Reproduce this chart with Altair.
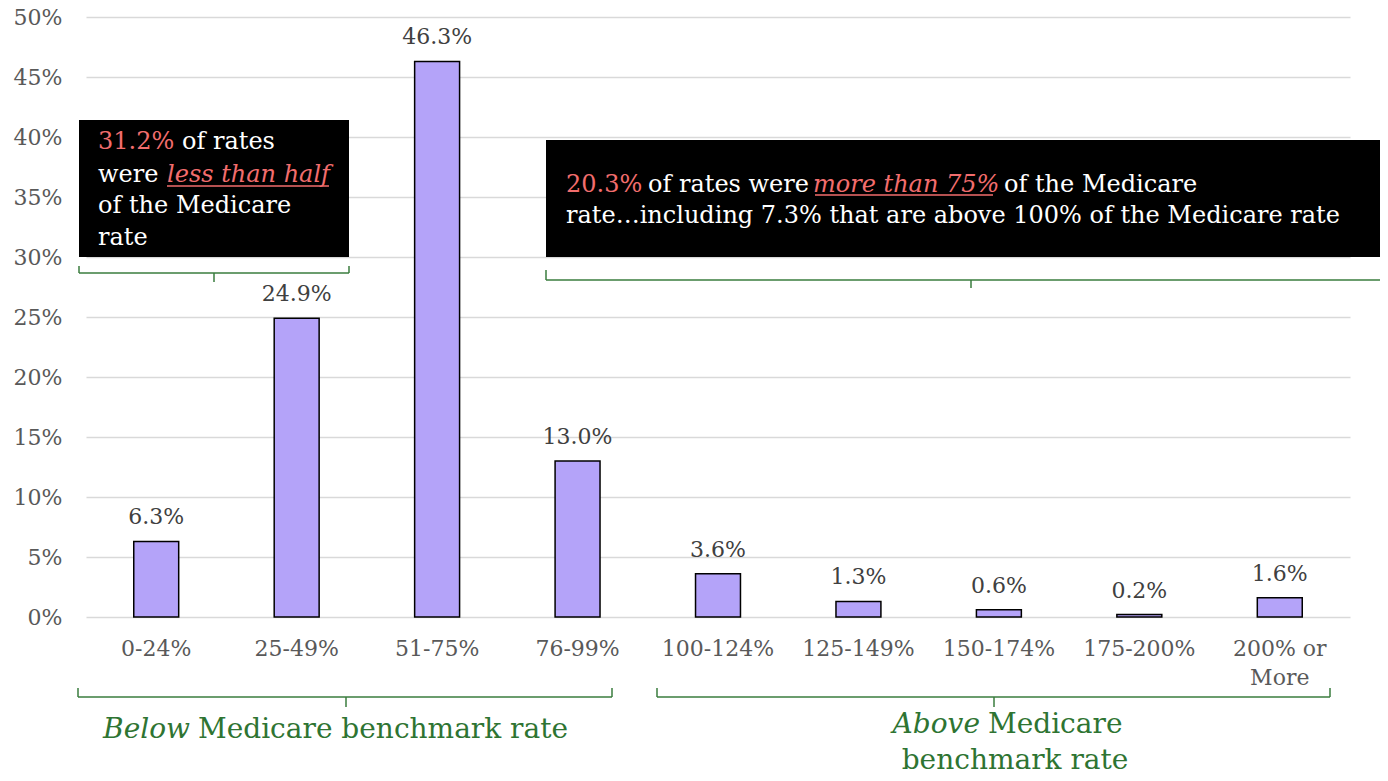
import altair as alt
import pandas as pd

# ---------------- data ----------------
categories = ["0-24%", "25-49%", "51-75%", "76-99%", "100-124%",
              "125-149%", "150-174%", "175-200%", "200% or More"]
shares = [6.3, 24.9, 46.3, 13.0, 3.6, 1.3, 0.6, 0.2, 1.6]
share_labels = ["6.3%", "24.9%", "46.3%", "13.0%", "3.6%", "1.3%", "0.6%", "0.2%", "1.6%"]
y_ticks = [0, 5, 10, 15, 20, 25, 30, 35, 40, 45, 50]

# annotation texts
box1_lines = ["31.2%", "of rates", "were", "less than half", "of the Medicare", "rate"]
box2_lines = ["20.3%", "of rates were", "more than 75%", "of the Medicare",
              "rate\u2026including 7.3% that are above 100% of the Medicare rate"]
group_texts = ["Below", "Medicare benchmark rate", "Above", "Medicare", "benchmark rate"]

FONT = "DejaVu Serif"
W, H = 1264, 600
RED = "#F26D6D"
GREEN = "#2E7432"
BRACKET = "#3A7D3E"

df = pd.DataFrame({"category": categories, "share": shares, "label": share_labels})

x_enc = alt.X("category:N", sort=categories,
              scale=alt.Scale(paddingInner=0.68, paddingOuter=0.34),
              axis=alt.Axis(title=None, labelAngle=0, domain=False, ticks=False, tickSize=0,
                            labelPadding=21, labelFont=FONT, labelFontSize=22,
                            labelColor="#595959", labelLineHeight=29,
                            labelExpr="datum.value == '200% or More' ? ['200% or', 'More'] : datum.label"))
y_enc = alt.Y("share:Q", scale=alt.Scale(domain=[0, 50], nice=False),
              axis=alt.Axis(title=None, values=y_ticks, domain=False, ticks=False, tickSize=0,
                            labelExpr="datum.value + '%'", labelPadding=24, labelFont=FONT,
                            labelFontSize=22, labelColor="#595959",
                            gridColor="#D9D9D9", gridWidth=1.5))

base = alt.Chart(df)
bars = base.mark_bar(color="#B4A3F9", stroke="black", strokeWidth=1.5).encode(x=x_enc, y=y_enc)
labels = base.mark_text(font=FONT, fontSize=22, color="#404040", baseline="alphabetic",
                        dy=-17).encode(x=x_enc, y=y_enc, text="label:N")

# ---------------- annotations (pixel space) ----------------
def px(field):
    return alt.X(field + ":Q", scale=None, axis=None)

def py(field):
    return alt.Y(field + ":Q", scale=None, axis=None)

boxes = pd.DataFrame({"x": [-7, 460], "x2": [263, 1302], "y": [103, 123], "y2": [240, 240]})
box_layer = alt.Chart(boxes).mark_rect(color="black").encode(
    x=px("x"), x2="x2:Q", y=py("y"), y2="y2:Q")

# brackets: horizontal line, two end ticks, one centre tick each
br = []
def bracket(x1, x2, y, up, xm, down):
    br.extend([(x1, x2, y, y), (x1, x1, y, y - up), (x2, x2, y, y - up), (xm, xm, y, y + down)])
bracket(-7, 263, 256, 7, 128, 9)
bracket(460, 1302, 263, 10, 885, 8)
bracket(-8, 526, 680, 9, 260, 10)
bracket(571, 1244, 680, 9, 908, 10)
brackets = pd.DataFrame(br, columns=["x", "x2", "y", "y2"])
bracket_layer = alt.Chart(brackets).mark_rule(color=BRACKET, strokeWidth=1.5).encode(
    x=px("x"), x2="x2:Q", y=py("y"), y2="y2:Q")

unders = pd.DataFrame({"x": [81, 729], "x2": [243, 907], "y": [169, 178], "y2": [169, 178]})
under_layer = alt.Chart(unders).mark_rule(color=RED, strokeWidth=1.5).encode(
    x=px("x"), x2="x2:Q", y=py("y"), y2="y2:Q")

box_norm = pd.DataFrame({
    "t": [box1_lines[0], box1_lines[1], box1_lines[2], box1_lines[4], box1_lines[5],
          box2_lines[0], box2_lines[1], box2_lines[3], box2_lines[4]],
    "x": [12, 96, 12, 12, 12, 480, 562, 918, 480],
    "y": [132, 132, 165, 196, 228, 175, 175, 175, 206],
    "c": [RED, "white", "white", "white", "white", RED, "white", "white", "white"],
})
box_ital = pd.DataFrame({"t": [box1_lines[3], box2_lines[2]], "x": [81, 727], "y": [165, 175]})

def text_layer(d, **kw):
    enc = dict(x=px("x"), y=py("y"), text="t:N")
    if "c" in d.columns:
        enc["color"] = alt.Color("c:N", scale=None)
    return alt.Chart(d).mark_text(font=FONT, baseline="alphabetic", **kw).encode(**enc)

t1 = text_layer(box_norm, fontSize=24, align="left")
t2 = text_layer(box_ital, fontSize=24, align="left", fontStyle="italic", color=RED)

g_right_it = pd.DataFrame({"t": [group_texts[0], group_texts[2]], "x": [104, 894], "y": [721, 716]})
g_left = pd.DataFrame({"t": [group_texts[1], group_texts[3]], "x": [112, 902], "y": [721, 716]})
g_center = pd.DataFrame({"t": [group_texts[4]], "x": [929], "y": [752]})
t3 = text_layer(g_right_it, fontSize=28, align="right", fontStyle="italic", color=GREEN)
t4 = text_layer(g_left, fontSize=28, align="left", color=GREEN)
t5 = text_layer(g_center, fontSize=28, align="center", color=GREEN)

chart = alt.layer(bars, labels, box_layer, bracket_layer, under_layer, t1, t2, t3, t4, t5).properties(
    width=W, height=H,
    autosize=alt.AutoSizeParams(type="none"),
    padding={"left": 78, "top": 9, "right": 30, "bottom": 155},
).configure_view(stroke=None)

chart.save("out.html", embed_options={"renderer": "svg", "actions": False})
